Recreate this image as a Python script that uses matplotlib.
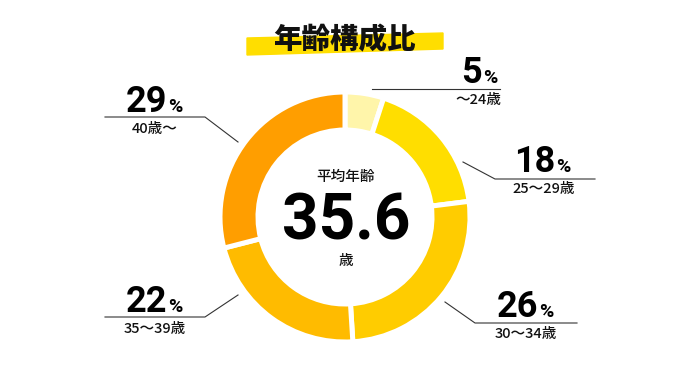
import matplotlib
matplotlib.use('Agg')
import matplotlib.pyplot as plt
from matplotlib.patches import Polygon

# data
ages = ['～24歳', '25～29歳', '30～34歳', '35～39歳', '40歳～']
shares = [5, 18, 26, 22, 29]
colors = ['#FFF5AA', '#FFDE00', '#FFCC00', '#FFBB00', '#FF9E00']
title = '年齢構成比'
avg_label = '平均年齢'
avg_age = '35.6'

jp = ['Noto Sans CJK JP', 'DejaVu Sans']
num = ['Roboto', 'DejaVu Sans']

# figure in pixel coordinates (y down)
fig = plt.figure(figsize=(6.9, 3.8), dpi=100)
ax = fig.add_axes([0, 0, 1, 1])

# donut: clockwise from the top (y axis is flipped, so counterclock=True)
ax.pie(shares, colors=colors, startangle=-90, counterclock=True,
       center=(345, 217), radius=125,
       wedgeprops=dict(width=38, edgecolor='white', linewidth=3.6))
ax.set_xlim(0, 690)
ax.set_ylim(380, 0)
ax.set_aspect('auto')
ax.axis('off')

# title with yellow marker band
ax.add_patch(Polygon([(247, 38), (443, 33), (443, 49), (247, 55)],
                     closed=True, color='#FFDE00', zorder=1))
ax.text(344, 40, title, family=jp, fontsize=20.5, fontweight='heavy',
        ha='center', va='center', color='#111111', zorder=2)

# centre text
ax.text(346, 177, avg_label, family=jp, fontsize=10.5, fontweight='medium',
        ha='center', va='center', color='#111111')
ax.text(346, 240, avg_age, family=num, fontsize=46, fontweight='bold',
        ha='center', va='baseline', color='#000000')
ax.text(346, 261, '歳', family=jp, fontsize=10.5, fontweight='medium',
        ha='center', va='center', color='#111111')

# leader lines and labels (layout per slice)
leaders = [
    [(372, 89), (500, 89)],
    [(463, 162), (495, 179), (595, 179)],
    [(445, 302), (475, 323), (577, 323)],
    [(238, 295), (205, 317), (105, 317)],
    [(238, 142), (205, 117), (105, 117)],
]
num_pos = [(482, 83), (555, 172), (538, 317), (167, 312), (167, 112)]
sub_pos = [(478, 100), (544, 188.5), (526, 334), (155, 328.5), (155, 128.5)]

for i in range(len(shares)):
    xs = [p[0] for p in leaders[i]]
    ys = [p[1] for p in leaders[i]]
    ax.plot(xs, ys, color='#333333', lw=0.8)
    nx, ny = num_pos[i]
    ax.text(nx, ny, str(shares[i]), family=num, fontsize=26, fontweight='bold',
            ha='right', va='baseline', color='#000000')
    ax.text(nx + 1, ny, '%', family=num, fontsize=14, fontweight='bold',
            ha='left', va='baseline', color='#000000')
    sx, sy = sub_pos[i]
    ax.text(sx, sy, ages[i], family=jp, fontsize=10.5, fontweight='medium',
            ha='center', va='center', color='#111111')

plt.savefig('out.png', dpi=100)
